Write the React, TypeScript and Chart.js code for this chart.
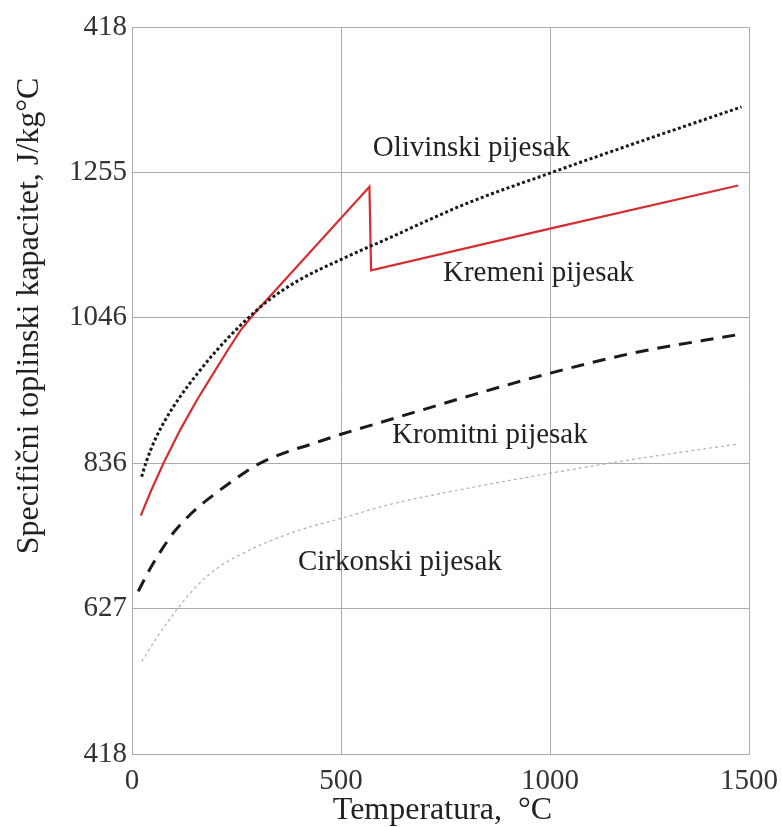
import React, { useEffect, useRef } from "react";
import { Chart, registerables } from "chart.js";

Chart.register(...registerables);

// X axis (temperature, °C)
const xTickValues = [0, 500, 1000, 1476];
const xTickLabels = ["0", "500", "1000", "1500"];
const xMin = 0;
const xMax = 1476;

// Y axis (specific heat, J/kg°C)
const yTickValues = [418, 627, 836, 1046, 1255, 1464];
const yTickLabels = ["418", "627", "836", "1046", "1255", "418"];
const yMin = 418;
const yMax = 1464;

// Olivinski pijesak (dotted black)
const olivTemp = [23, 35, 55, 80, 115, 156, 200, 260, 325, 400, 502, 617, 800, 1001, 1200, 1458];
const olivCp = [817, 840, 870, 899, 932, 965, 997, 1035, 1070, 1100, 1130, 1161, 1210, 1254, 1296, 1349];

// Kremeni pijesak (red solid)
const kremTemp = [21, 45, 75, 115, 155, 195, 230, 260, 290, 568, 572, 1000, 1450];
const kremCp = [761, 796, 836, 884, 927, 966, 1000, 1028, 1050, 1234, 1114, 1174, 1236];

// Kromitni pijesak (dashed black)
const kromTemp = [15, 40, 70, 100, 130, 160, 200, 250, 290, 350, 430, 500, 600, 800, 1001, 1200, 1446];
const kromCp = [652, 681, 711, 737, 757, 774, 793, 815, 831, 848, 864, 878, 896, 932, 966, 995, 1021];

// Cirkonski pijesak (thin grey dotted)
const cirkTemp = [23, 60, 100, 140, 180, 220, 270, 320, 400, 500, 617, 800, 1001, 1200, 1450];
const cirkCp = [551, 586, 620, 650, 674, 692, 708, 722, 740, 757, 777, 800, 822, 842, 864];

// Curve labels
const labelTexts = ["Olivinski pijesak", "Kremeni pijesak", "Kromitni pijesak", "Cirkonski pijesak"];
const labelTemps = [576, 744, 622, 397];
const labelCps = [1278, 1098, 866, 683];

const xTitle = "Temperatura,  °C";
const yTitle = "Specifični toplinski kapacitet, J/kg°C";

const serif = '"Liberation Serif", "Times New Roman", serif';

const toXY = (xs: number[], ys: number[]) => xs.map((x, i) => ({ x, y: ys[i] }));

export default function App() {
  const ref = useRef<HTMLCanvasElement | null>(null);

  useEffect(() => {
    if (!ref.current) return;

    const textPlugin = {
      id: "textPlugin",
      afterDraw(chart: any) {
        const ctx = chart.ctx;
        const xs = chart.scales.x;
        const ys = chart.scales.y;
        ctx.save();
        ctx.fillStyle = "#222";
        ctx.font = `29px ${serif}`;
        ctx.textAlign = "left";
        ctx.textBaseline = "alphabetic";
        labelTexts.forEach((t, i) => {
          ctx.fillText(t, xs.getPixelForValue(labelTemps[i]), ys.getPixelForValue(labelCps[i]));
        });
        // axis titles
        ctx.font = `32px ${serif}`;
        ctx.textAlign = "center";
        ctx.fillText(xTitle, (chart.chartArea.left + chart.chartArea.right) / 2 + 2, 819);
        ctx.translate(38, 316);
        ctx.rotate(-Math.PI / 2);
        ctx.fillText(yTitle, 0, 0);
        ctx.restore();
      },
    };

    const chart = new Chart(ref.current, {
      type: "line",
      data: {
        datasets: [
          {
            label: "Olivinski pijesak",
            data: toXY(olivTemp, olivCp),
            borderColor: "#1a1a1a",
            borderWidth: 3,
            borderDash: [3, 2.5],
            pointRadius: 0,
            cubicInterpolationMode: "monotone",
            fill: false,
          },
          {
            label: "Kremeni pijesak",
            data: toXY(kremTemp, kremCp),
            borderColor: "rgb(212,46,48)",
            borderWidth: 2.2,
            pointRadius: 0,
            tension: 0,
            fill: false,
          },
          {
            label: "Kromitni pijesak",
            data: toXY(kromTemp, kromCp),
            borderColor: "#1a1a1a",
            borderWidth: 3,
            borderDash: [13, 9],
            pointRadius: 0,
            cubicInterpolationMode: "monotone",
            fill: false,
          },
          {
            label: "Cirkonski pijesak",
            data: toXY(cirkTemp, cirkCp),
            borderColor: "#b0b0b0",
            borderWidth: 1.2,
            borderDash: [3, 3],
            pointRadius: 0,
            cubicInterpolationMode: "monotone",
            fill: false,
          },
        ],
      },
      options: {
        responsive: false,
        animation: false,
        devicePixelRatio: 1,
        layout: { padding: { top: 27, right: 33, left: 0, bottom: 0 } },
        plugins: {
          legend: { display: false },
          tooltip: { enabled: false },
          title: { display: false },
        },
        scales: {
          x: {
            type: "linear",
            min: xMin,
            max: xMax,
            afterBuildTicks: (scale: any) => {
              scale.ticks = xTickValues.map((v) => ({ value: v }));
            },
            afterFit: (scale: any) => {
              scale.height = 73;
              scale.paddingLeft = 0;
              scale.paddingRight = 0;
            },
            ticks: {
              autoSkip: false,
              maxRotation: 0,
              padding: 10,
              color: "#333",
              font: { family: serif, size: 29 },
              callback: (_v: any, i: number) => xTickLabels[i],
            },
            grid: { color: "#aaaaaa", lineWidth: 1, drawTicks: false },
            border: { color: "#aaaaaa", width: 1 },
          },
          y: {
            type: "linear",
            min: yMin,
            max: yMax,
            afterBuildTicks: (scale: any) => {
              scale.ticks = yTickValues.map((v) => ({ value: v }));
            },
            afterFit: (scale: any) => {
              scale.width = 132;
              scale.paddingTop = 0;
              scale.paddingBottom = 0;
            },
            ticks: {
              autoSkip: false,
              padding: 5,
              color: "#333",
              font: { family: serif, size: 29 },
              callback: (_v: any, i: number) => yTickLabels[i],
            },
            grid: { color: "#aaaaaa", lineWidth: 1, drawTicks: false },
            border: { color: "#aaaaaa", width: 1 },
          },
        },
      },
      plugins: [textPlugin],
    } as any);

    return () => chart.destroy();
  }, []);

  return (
    <div style={{ position: "fixed", left: 0, top: 0, width: 782, height: 827, background: "#fff" }}>
      <canvas ref={ref} width={782} height={827} style={{ display: "block" }} />
    </div>
  );
}
